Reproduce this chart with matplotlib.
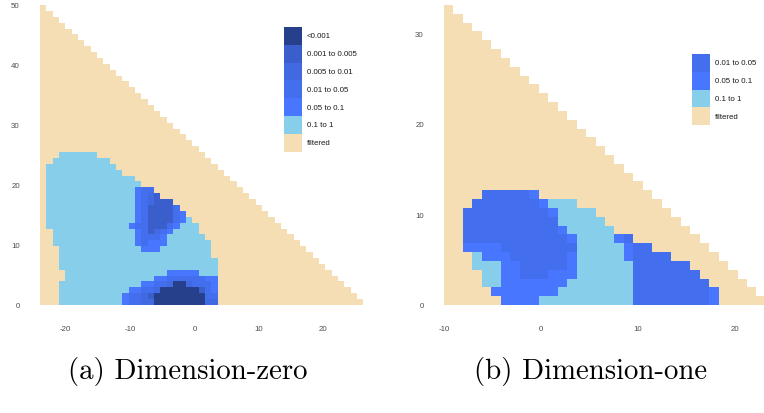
import numpy as np
import matplotlib
matplotlib.use("Agg")
import matplotlib.pyplot as plt
from matplotlib.colors import ListedColormap
from matplotlib.patches import Rectangle

# p-value bins, in legend order (darkest first)
BIN_CODES = ["1", "2", "3", "4", "5", "L", "f"]
BIN_LABELS = ["<0.001", "0.001 to 0.005", "0.005 to 0.01", "0.01 to 0.05",
              "0.05 to 0.1", "0.1 to 1", "filtered"]
BIN_COLORS = ["#27408B", "#3A5FCD", "#4169E1", "#436EEE", "#4876FF", "#87CEEB", "#F5DEB3"]

# (a) dimension-zero: 51 x 51 grid, row 0 at the bottom, run-length "code:count"
LEFT_SIZE = 51
LEFT_X_RANGE = (-24.0, 26.2)
LEFT_Y_RANGE = (0.0, 50.0)
LEFT_XTICKS = [-20, -10, 0, 10, 20]
LEFT_YTICKS = [0, 10, 20, 30, 40, 50]
LEFT_ROWS = [
    "f:3 L:10 5:1 4:2 3:2 1:8 3:2",
    "f:3 L:10 5:1 4:2 3:1 2:1 1:8 4:2",
    "f:3 L:11 5:2 4:2 3:1 1:6 2:1 4:1 5:1",
    "f:3 L:13 5:2 4:2 3:1 1:2 3:1 4:3 5:1",
    "f:4 L:14 5:2 4:6 5:2",
    "f:4 L:16 5:5 L:3",
    "f:3 L:25",
    "f:3 L:25",
    "f:3 L:24",
    "f:3 L:13 5:3 L:8",
    "f:2 L:13 5:1 4:1 5:3 L:7",
    "f:2 L:13 5:1 4:3 5:1 L:6",
    "f:2 L:13 5:1 4:1 2:1 3:1 4:1 5:1 L:4",
    "f:1 L:13 5:1 4:2 2:3 4:1 5:1 L:3",
    "f:1 L:14 5:1 4:1 2:4 4:1 5:1 L:1",
    "f:1 L:14 5:1 4:1 2:4 4:1 5:1",
    "f:1 L:14 5:1 4:1 2:4 4:1",
    "f:1 L:14 5:1 4:1 3:1 2:3",
    "f:1 L:14 5:1 4:1 3:1 2:1",
    "f:1 L:14 5:1 4:2",
    "f:1 L:15",
    "f:1 L:14",
    "f:1 L:12",
    "f:1 L:11",
    "f:2 L:9",
    "f:3 L:6",
]
LEFT_LEGEND = ["1", "2", "3", "4", "5", "L", "f"]

# (b) dimension-one: 34 x 34 grid
RIGHT_SIZE = 34
RIGHT_X_RANGE = (-10.0, 23.2)
RIGHT_Y_RANGE = (0.0, 33.1)
RIGHT_XTICKS = [-10, 0, 10, 20]
RIGHT_YTICKS = [0, 10, 20, 30]
RIGHT_ROWS = [
    "f:6 5:4 L:10 4:8 5:1",
    "f:5 5:7 L:8 4:8 5:1",
    "f:4 L:2 5:7 L:7 4:8",
    "f:4 L:2 5:2 4:3 5:3 L:6 4:7",
    "f:3 L:3 5:2 4:5 5:1 L:6 4:6",
    "f:3 L:1 5:3 4:6 5:1 L:5 5:1 4:4",
    "f:2 5:4 4:8 L:5 5:1 4:2",
    "f:2 4:11 5:1 L:4 5:1 4:1",
    "f:2 4:10 5:1 L:5",
    "f:2 4:10 L:5",
    "f:2 4:9 5:1 L:4",
    "f:3 4:7 5:1 L:3",
    "f:4 4:5 5:1",
]
RIGHT_LEGEND = ["4", "5", "L", "f"]

FIG_W, FIG_H = 764, 414
TICK_COLOR = "#4D4D4D"
SANS = "Liberation Sans"


def build_grid(rows: list[str], size: int) -> np.ma.MaskedArray:
    grid = np.full((size, size), np.nan)
    filtered = BIN_CODES.index("f")
    for r in range(size):
        grid[r, : size - r] = filtered
    for r, spec in enumerate(rows):
        c = 0
        for token in spec.split():
            code, count = token.split(":")
            for _ in range(int(count)):
                grid[r, c] = BIN_CODES.index(code)
                c += 1
    return np.ma.masked_invalid(grid)


def fig_frac(x_px: float, y_px: float) -> tuple[float, float]:
    return x_px / FIG_W, 1.0 - y_px / FIG_H


def draw_panel(fig, rect_px, rows, size, x_range, y_range, xlim, xticks, yticks):
    left, top, width, height = rect_px
    x0, y0 = fig_frac(left, top + height)
    ax = fig.add_axes([x0, y0, width / FIG_W, height / FIG_H])
    grid = build_grid(rows, size)
    x_edges = np.linspace(x_range[0], x_range[1], size + 1)
    y_edges = np.linspace(y_range[0], y_range[1], size + 1)
    ax.pcolormesh(x_edges, y_edges, grid, cmap=ListedColormap(BIN_COLORS),
                  vmin=-0.5, vmax=len(BIN_COLORS) - 0.5, shading="flat")
    ax.set_xlim(*xlim)
    ax.set_ylim(*y_range)
    ax.set_xticks(xticks)
    ax.set_yticks(yticks)
    ax.tick_params(length=0, pad=14.5, labelsize=5.7, labelcolor=TICK_COLOR)
    for label in ax.get_xticklabels() + ax.get_yticklabels():
        label.set_family(SANS)
    for spine in ax.spines.values():
        spine.set_visible(False)
    return ax


def draw_legend(fig, left_px, top_px, codes):
    key_w, key_h = 18.0, 17.8
    for i, code in enumerate(codes):
        idx = BIN_CODES.index(code)
        x, y = fig_frac(left_px, top_px + (i + 1) * key_h)
        fig.add_artist(Rectangle((x, y), key_w / FIG_W, key_h / FIG_H,
                                 transform=fig.transFigure, facecolor=BIN_COLORS[idx],
                                 edgecolor="none"))
        tx, ty = fig_frac(left_px + key_w + 5, top_px + (i + 0.5) * key_h)
        fig.text(tx, ty, BIN_LABELS[idx], ha="left", va="center",
                 fontsize=5.7, family=SANS, color="#1a1a1a")


def main() -> int:
    plt.rcParams["axes.unicode_minus"] = False
    fig = plt.figure(figsize=(FIG_W / 100, FIG_H / 100), dpi=100)

    draw_panel(fig, (40, 6, 323.4, 300), LEFT_ROWS, LEFT_SIZE, LEFT_X_RANGE,
               LEFT_Y_RANGE, LEFT_X_RANGE, LEFT_XTICKS, LEFT_YTICKS)
    draw_panel(fig, (444, 6, 320, 300), RIGHT_ROWS, RIGHT_SIZE, RIGHT_X_RANGE,
               RIGHT_Y_RANGE, (-10.0, 23.0), RIGHT_XTICKS, RIGHT_YTICKS)

    draw_legend(fig, 284, 28, LEFT_LEGEND)
    draw_legend(fig, 691.7, 55, RIGHT_LEGEND)

    for cx, caption in [(188, "(a) Dimension-zero"), (591, "(b) Dimension-one")]:
        x, y = fig_frac(cx, 372)
        fig.text(x, y, caption, ha="center", va="center", fontsize=20.8,
                 family=["cmr10", "DejaVu Serif"], color="black")

    fig.savefig("out.png", dpi=100)
    plt.close(fig)
    return 0


if __name__ == "__main__":
    raise SystemExit(main())
